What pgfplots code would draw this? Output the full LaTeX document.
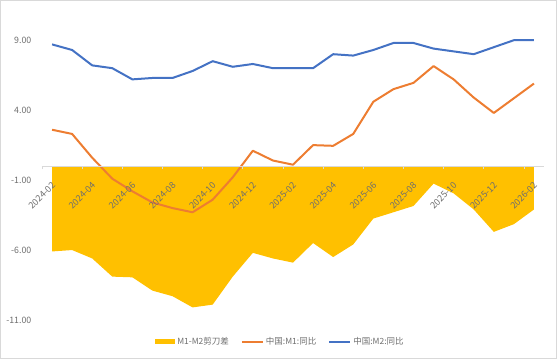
\documentclass[border=0pt]{standalone}
\usepackage{fontspec}
\setmainfont{Noto Sans CJK SC}
\usepackage{pgfplots}
\pgfplotsset{compat=1.18}
\definecolor{cyel}{HTML}{FFC000}
\definecolor{corg}{HTML}{ED7D31}
\definecolor{cblu}{HTML}{4472C4}
\definecolor{ctxt}{HTML}{6E6E6E}
\definecolor{cax}{HTML}{D9D9D9}
\begin{document}
\begin{tikzpicture}[x=1pt,y=1pt]
\path[use as bounding box] (0,0) rectangle (557,359);
\draw[cax, line width=0.8pt] (0.5,0.5) rectangle (556.5,358.5);
\begin{axis}[
  at={(42pt,39pt)}, anchor=south west,
  scale only axis, width=502pt, height=279.8pt,
  xmin=-0.5, xmax=24.5, ymin=-11, ymax=9,
  clip=false,
  axis on top,
  axis x line=middle, axis y line=left,
  y axis line style={draw=none},
  x axis line style={draw=cax, line width=0.8pt, -},
  xtick={0,2,...,24},
  xticklabels={2024-02,2024-04,2024-06,2024-08,2024-10,2024-12,2025-02,2025-04,2025-06,2025-08,2025-10,2025-12,2026-02},
  major x tick style={draw=none},
  minor xtick={-0.5,1.5,...,23.5},
  minor x tick style={draw=cax, line width=0.8pt},
  minor tick length=3pt,
  xtick align=outside,
  xticklabel style={xshift=4pt, yshift=-11pt, rotate=45, anchor=east, text=ctxt, font=\fontsize{9}{10}\selectfont},
  ytick={-11,-6,-1,4,9},
  major y tick style={draw=none},
  yticklabel style={xshift=-5pt, text=ctxt, font=\fontsize{8.8}{10}\selectfont, /pgf/number format/.cd, fixed, fixed zerofill, precision=2},
  /pgf/number format/assume math mode=true,
  legend columns=3,
  legend style={draw=none, fill=none, at={(0.475,-0.078)}, anchor=center,
    font=\fontsize{8.5}{10}\selectfont, text=ctxt,
    /tikz/every even column/.append style={column sep=10pt}},
  legend cell align=left,
]
\addplot[fill=cyel, draw=none, area legend,
  legend image code/.code={\fill[cyel] (0pt,-2.5pt) rectangle (20pt,2.5pt);}]
coordinates {
(0,-6.1) (1,-6.0) (2,-6.6) (3,-7.9) (4,-7.95) (5,-8.9) (6,-9.3) (7,-10.1) (8,-9.9) (9,-7.9) (10,-6.2) (11,-6.6) (12,-6.9) (13,-5.5) (14,-6.5) (15,-5.6) (16,-3.75) (17,-3.3) (18,-2.85) (19,-1.25) (20,-1.95) (21,-3.1) (22,-4.7) (23,-4.15) (24,-3.1)
} \closedcycle;
\addlegendentry{M1-M2剪刀差}
\addplot[corg, line width=2pt, line join=round,
  legend image code/.code={\draw[corg, line width=2pt] (0pt,0pt) -- (21pt,0pt);}]
coordinates {
(0,2.6) (1,2.3) (2,0.6) (3,-0.9) (4,-1.8) (5,-2.6) (6,-3.0) (7,-3.3) (8,-2.4) (9,-0.8) (10,1.1) (11,0.4) (12,0.1) (13,1.5) (14,1.45) (15,2.3) (16,4.6) (17,5.5) (18,5.95) (19,7.15) (20,6.2) (21,4.9) (22,3.8) (23,4.85) (24,5.9)
};
\addlegendentry{中国:M1:同比}
\addplot[cblu, line width=2pt, line join=round,
  legend image code/.code={\draw[cblu, line width=2pt] (0pt,0pt) -- (21pt,0pt);}]
coordinates {
(0,8.7) (1,8.3) (2,7.2) (3,7.0) (4,6.2) (5,6.3) (6,6.3) (7,6.8) (8,7.5) (9,7.1) (10,7.3) (11,7.0) (12,7.0) (13,7.0) (14,8.0) (15,7.9) (16,8.3) (17,8.8) (18,8.8) (19,8.4) (20,8.2) (21,8.0) (22,8.5) (23,9.0) (24,9.0)
};
\addlegendentry{中国:M2:同比}
\end{axis}
\end{tikzpicture}
\end{document}
